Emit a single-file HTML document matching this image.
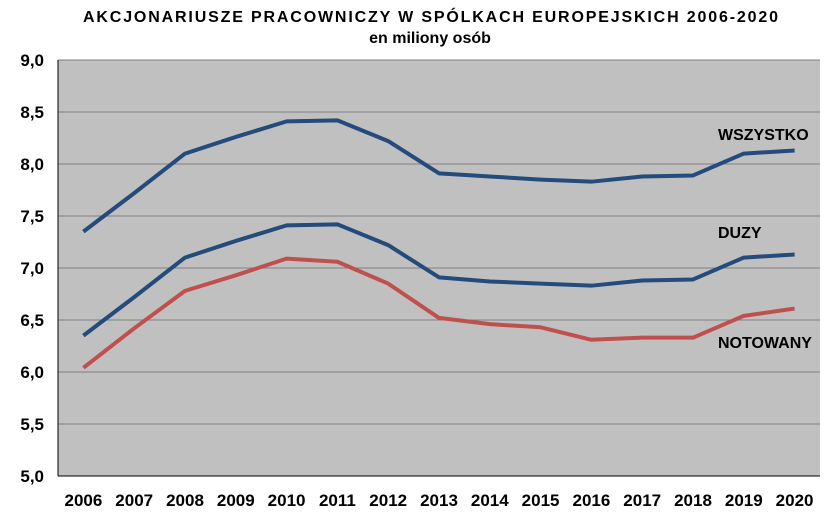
<!DOCTYPE html>
<html><head><meta charset="utf-8"><style>
body{margin:0;background:#fff;width:830px;height:516px;overflow:hidden}
svg text{font-family:"Liberation Sans",Arial,sans-serif;font-weight:bold;fill:#000}
</style></head><body>
<svg id="chart" width="830" height="516">
<text x="83" y="22" font-size="16" textLength="695" lengthAdjust="spacing">AKCJONARIUSZE  PRACOWNICZY  W  SPÓLKACH  EUROPEJSKICH 2006-2020</text>
<text x="430" y="43" text-anchor="middle" font-size="16">en miliony osób</text>
<rect x="58" y="60" width="762" height="416" fill="#c0c0c0"/>
<g id="grid"></g><g id="series"></g><g id="labels"></g>
</svg>
<script>
const years=["2006","2007","2008","2009","2010","2011","2012","2013","2014","2015","2016","2017","2018","2019","2020"];
const yTicks=["5,0","5,5","6,0","6,5","7,0","7,5","8,0","8,5","9,0"];
const wszystko=[7.35,7.72,8.10,8.26,8.41,8.42,8.22,7.91,7.88,7.85,7.83,7.88,7.89,8.10,8.13];
const duzy=[6.35,6.72,7.10,7.26,7.41,7.42,7.22,6.91,6.87,6.85,6.83,6.88,6.89,7.10,7.13];
const notowany=[6.04,6.42,6.78,6.93,7.09,7.06,6.85,6.52,6.46,6.43,6.31,6.33,6.33,6.54,6.61];
const NS="http://www.w3.org/2000/svg";
const L=58,R=820,T=60,B=476,ymin=5,ymax=9;
const xs=i=>L+(R-L)/years.length*(i+0.5);
const ys=v=>B-(v-ymin)/(ymax-ymin)*(B-T);
const grid=document.getElementById('grid'),ser=document.getElementById('series'),lab=document.getElementById('labels');
function mk(t,a,p){const e=document.createElementNS(NS,t);for(const k in a)e.setAttribute(k,a[k]);p.appendChild(e);return e;}
yTicks.forEach((t,i)=>{const v=ymin+i*0.5,y=ys(v);
 const g=mk('line',{x1:L,x2:R,y1:y,y2:y,stroke:'#808080','stroke-width':1},grid);
 
 
 const tx=mk('text',{x:L-14,y:y+6,'text-anchor':'end','font-size':17},lab);tx.textContent=t;
 
 
});
const ax=mk('line',{x1:L,x2:L,y1:T,y2:B,stroke:'#000','stroke-width':1},grid);


const bx=mk('line',{x1:L,x2:R,y1:B,y2:B,stroke:'#000','stroke-width':1},grid);


years.forEach((y,i)=>{const tx=mk('text',{x:xs(i),y:506,'text-anchor':'middle','font-size':17},lab);tx.textContent=y;
 
 
});
function line(d,c,n){const p=mk('polyline',{points:d.map((v,i)=>xs(i)+','+ys(v)).join(' '),fill:'none',stroke:c,'stroke-width':4,'stroke-linejoin':'round'},ser);
 
 }
line(wszystko,'#254a7c','series-wszystko');
line(duzy,'#254a7c','series-duzy');
line(notowany,'#c0504d','series-notowany');
[["WSZYSTKO",718,140],["DUZY",718,238],["NOTOWANY",718,348]].forEach(a=>{const tx=mk('text',{x:a[1],y:a[2],'font-size':16},lab);tx.textContent=a[0];
 
 
});
</script>
</body></html>
